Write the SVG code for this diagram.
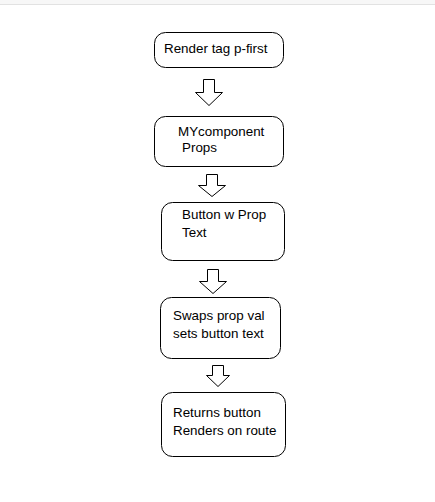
<svg xmlns="http://www.w3.org/2000/svg" width="435" height="502" viewBox="0 0 435 502">
<style>
.box{fill:#fff;stroke:#000;stroke-width:1}
.arr{fill:#fff;stroke:#000;stroke-width:1;stroke-linejoin:miter}
text{font-family:"Liberation Sans",Arial,sans-serif;font-size:13.4px;fill:#000}
</style>
<rect x="0" y="0" width="435" height="502" fill="#fff"/>
<rect x="0" y="0" width="435" height="4" fill="#f7f7f7"/>
<line x1="0" y1="4.5" x2="435" y2="4.5" stroke="#e2e2e2" stroke-width="1"/>
<g id="node1"><rect class="box" x="154.5" y="32.5" width="129" height="35" rx="11"/><text x="164" y="53">Render tag p-first</text></g>
<g id="node2"><rect class="box" x="154.5" y="116.5" width="129" height="50" rx="11"/><text x="178" y="136">MYcomponent</text><text x="182" y="151.5">Props</text></g>
<g id="node3"><rect class="box" x="161.5" y="202.5" width="123" height="58" rx="11"/><text x="182" y="219">Button w Prop</text><text x="182" y="237">Text</text></g>
<g id="node4"><rect class="box" x="160.5" y="297.5" width="120" height="61" rx="11"/><text x="173" y="320">Swaps prop val</text><text x="173" y="338">sets button text</text></g>
<g id="node5"><rect class="box" x="161.5" y="392.5" width="124" height="64" rx="11"/><text x="173" y="417">Returns button</text><text x="173" y="435">Renders on route</text></g>
<g id="connectors">
<path class="arr" d="M203.5,79.5 H214.5 V92.5 H222.5 L209,105.5 L195.5,92.5 H203.5 Z"/>
<path class="arr" d="M206.5,174.5 H217.5 V185.5 H225.5 L212,196.5 L198.5,185.5 H206.5 Z"/>
<path class="arr" d="M207.5,269.5 H218.5 V281.5 H226.5 L213,293.5 L199.5,281.5 H207.5 Z"/>
<path class="arr" d="M212.5,365.5 H223.5 V375.5 H229.5 L218,386.5 L206.5,375.5 H212.5 Z"/>
</g>
</svg>
